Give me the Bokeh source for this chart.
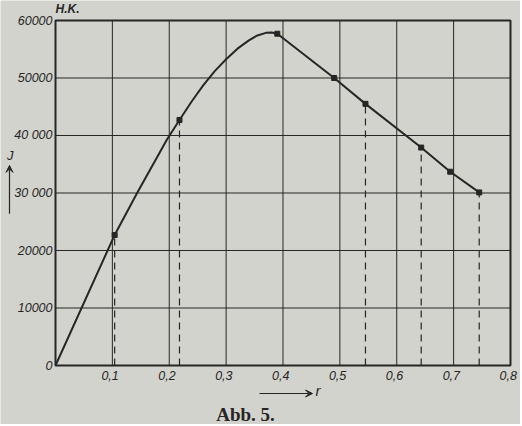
from bokeh.plotting import figure
from bokeh.models import Range1d, Arrow, VeeHead
from bokeh.core.properties import value
from bokeh.embed import file_html
from bokeh.resources import INLINE

# measured points (markers)
r_pts = [0.104, 0.218, 0.39, 0.49, 0.545, 0.643, 0.694, 0.745]
j_pts = [22700, 42700, 57700, 50000, 45500, 37900, 33700, 30100]

# curve drawn through the points
r_curve = [0.0, 0.104, 0.144, 0.196, 0.218, 0.24, 0.26, 0.28, 0.30, 0.32, 0.34, 0.355, 0.37, 0.38, 0.39,
           0.49, 0.545, 0.643, 0.694, 0.745]
j_curve = [0, 22700, 30100, 39300, 42700, 46000, 48750, 51200, 53250, 55100, 56550, 57400, 57850, 57900, 57700,
           50000, 45500, 37900, 33700, 30100]

# points with dashed drop lines
r_drop = [0.104, 0.218, 0.545, 0.643, 0.745]
j_drop = [22700, 42700, 45500, 37900, 30100]

x_ticks = [0.1, 0.2, 0.3, 0.4, 0.5, 0.6, 0.7, 0.8]
x_labels = ["0,1", "0,2", "0,3", "0,4", "0,5", "0,6", "0,7", "0,8"]
y_ticks = [0, 10000, 20000, 30000, 40000, 50000, 60000]
y_labels = ["0", "10000", "20000", "30 000", "40 000", "50000", "60000"]

X_MIN, X_MAX = 0.0, 0.8
Y_MIN, Y_MAX = 0, 60000

paper = "#d3d3cd"
ink = "#262626"

# frame fills the whole canvas; ranges set so the chart box sits where the reference has it
p = figure(width=520, height=424, output_backend="svg", toolbar_location=None,
           x_range=Range1d(-0.0967, 0.8176), y_range=Range1d(-10261, 63478),
           min_border=0)
p.axis.visible = False
p.grid.visible = False
p.outline_line_color = None
p.background_fill_color = paper
p.border_fill_color = paper

# grid
p.segment(x0=x_ticks, y0=[Y_MIN]*len(x_ticks), x1=x_ticks, y1=[Y_MAX]*len(x_ticks),
          line_color=ink, line_width=1)
p.segment(x0=[X_MIN]*len(y_ticks), y0=y_ticks, x1=[X_MAX]*len(y_ticks), y1=y_ticks,
          line_color=ink, line_width=1)
# frame border
p.quad(left=[X_MIN], right=[X_MAX], bottom=[Y_MIN], top=[Y_MAX],
       fill_color=None, line_color=ink, line_width=2)

# tick labels
p.text(x=[t - 0.004 for t in x_ticks], y=[-1000]*len(x_ticks), text=x_labels,
       text_font=value("Liberation Sans"), text_font_style="italic", text_font_size="12.5px",
       text_color=ink, text_align="center", text_baseline="top")
p.text(x=[-0.0053]*len(y_ticks), y=y_ticks, text=y_labels,
       text_font=value("Liberation Sans"), text_font_style="italic", text_font_size="12.5px",
       text_color=ink, text_align="right", text_baseline="middle")

# dashed drop lines
p.segment(x0=r_drop, y0=[0]*len(r_drop), x1=r_drop, y1=j_drop,
          line_color=ink, line_width=1.2, line_dash="7 5")

p.line(r_curve, j_curve, line_color=ink, line_width=2, line_join="round")
p.scatter(r_pts, j_pts, marker="square", size=5, color=ink)

# annotation texts
p.text(x=[0.0], y=[60700], text=["H.K."], text_font=value("Liberation Sans"),
       text_font_style="bold italic", text_font_size="12px", text_color=ink,
       text_align="left", text_baseline="bottom")
p.text(x=[-0.0795], y=[36500], text=["J"], text_font=value("Liberation Sans"),
       text_font_style="italic", text_font_size="13px", text_color=ink,
       text_align="center", text_baseline="middle")
p.add_layout(Arrow(x_start=-0.0809, y_start=26400, x_end=-0.0809, y_end=34800,
                   line_color=ink, line_width=1.2,
                   end=VeeHead(size=7, fill_color=ink, line_color=ink)))
p.add_layout(Arrow(x_start=0.3587, y_start=-4870, x_end=0.4519, y_end=-4870,
                   line_color=ink, line_width=1.2,
                   end=VeeHead(size=7, fill_color=ink, line_color=ink)))
p.text(x=[0.4570], y=[-4350], text=["r"], text_font=value("Liberation Sans"),
       text_font_style="italic", text_font_size="15px", text_color=ink,
       text_align="left", text_baseline="middle")
p.text(x=[0.3341], y=[-8520], text=["Abb. 5."], text_font=value("Liberation Serif"),
       text_font_style="bold", text_font_size="19px", text_color=ink,
       text_align="center", text_baseline="middle")

open("out.html", "w").write(file_html(p, INLINE))
